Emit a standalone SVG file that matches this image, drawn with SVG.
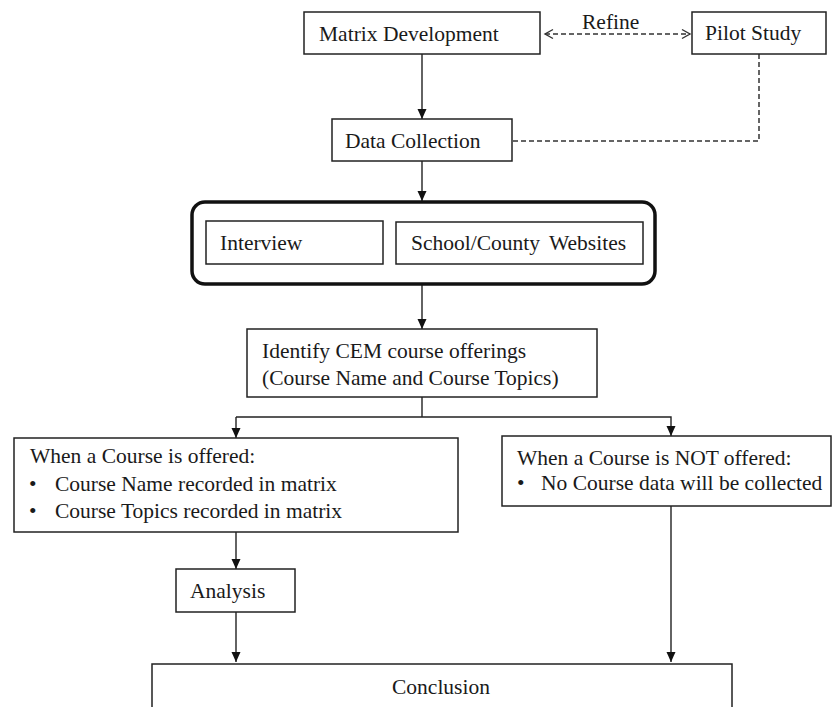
<svg xmlns="http://www.w3.org/2000/svg" width="833" height="707" viewBox="0 0 833 707">
<style>
.box{fill:#fff;stroke:#222;stroke-width:1.5}
.t{font-family:'Liberation Serif',serif;font-size:21.5px;fill:#1a1a1a}
.ln{fill:none;stroke:#222;stroke-width:1.4}
.dash{fill:none;stroke:#333;stroke-width:1.5;stroke-dasharray:5 3}
</style>
<defs>
<marker id="ah" markerUnits="userSpaceOnUse" markerWidth="10" markerHeight="10" refX="10" refY="5" orient="auto">
<path d="M0,0.5 L10,5 L0,9.5 z" fill="#111"/>
</marker>
<marker id="oh" markerUnits="userSpaceOnUse" markerWidth="12" markerHeight="12" refX="9" refY="6" orient="auto-start-reverse">
<path d="M1,1.5 L9,6 L1,10.5" fill="none" stroke="#333" stroke-width="1.4"/>
</marker>
</defs>
<rect width="833" height="707" fill="#fff"/>
<g id="connectors">
<line class="dash" x1="545" y1="34" x2="690" y2="34" marker-start="url(#oh)" marker-end="url(#oh)"/>
<polyline class="dash" points="759,54 759,141 512,141"/>
<line class="ln" x1="422" y1="54" x2="422" y2="119" marker-end="url(#ah)"/>
<line class="ln" x1="422" y1="161" x2="422" y2="201" marker-end="url(#ah)"/>
<line class="ln" x1="422" y1="285" x2="422" y2="329" marker-end="url(#ah)"/>
<polyline class="ln" points="422,397 422,417"/>
<polyline class="ln" points="236,417 671,417 671,436" marker-end="url(#ah)"/>
<line class="ln" x1="236" y1="417" x2="236" y2="438" marker-end="url(#ah)"/>
<line class="ln" x1="236" y1="532" x2="236" y2="569" marker-end="url(#ah)"/>
<line class="ln" x1="236" y1="612" x2="236" y2="662" marker-end="url(#ah)"/>
<line class="ln" x1="671" y1="506" x2="671" y2="662" marker-end="url(#ah)"/>
<text class="t" x="582" y="29" font-family="Liberation Serif">Refine</text>
</g>
<g font-family="Liberation Serif">
<g id="matrix"><rect class="box" x="304" y="12" width="236" height="42"/><text class="t" x="319" y="41">Matrix Development</text></g>
<g id="pilot"><rect class="box" x="692" y="12" width="134" height="42"/><text class="t" x="705" y="40">Pilot Study</text></g>
<g id="data"><rect class="box" x="332" y="119" width="180" height="42"/><text class="t" x="345" y="148">Data Collection</text></g>
<g id="sources">
<rect x="192" y="202" width="463" height="82" rx="13" fill="#fff" stroke="#111" stroke-width="3.5"/>
<g id="interview"><rect class="box" x="206" y="221" width="177" height="43"/><text class="t" x="220" y="250">Interview</text></g>
<g id="websites"><rect class="box" x="396" y="222" width="247" height="42"/><text class="t" x="411" y="250" word-spacing="4">School/County Websites</text></g>
</g>
<g id="identify"><rect class="box" x="247" y="329" width="350" height="68"/><text class="t" x="262" y="358">Identify CEM course offerings</text><text class="t" x="262" y="385">(Course Name and Course Topics)</text></g>
<g id="offered"><rect class="box" x="14" y="438" width="444" height="94"/>
<text class="t" x="30" y="463">When a Course is offered:</text>
<text class="t" x="29" y="491">•</text><text class="t" x="55" y="491">Course Name recorded in matrix</text>
<text class="t" x="29" y="518">•</text><text class="t" x="55" y="518">Course Topics recorded in matrix</text></g>
<g id="notoffered"><rect class="box" x="502" y="436" width="329" height="70"/>
<text class="t" x="517" y="465">When a Course is NOT offered:</text>
<text class="t" x="517" y="490">•</text><text class="t" x="541" y="490">No Course data will be collected</text></g>
<g id="analysis"><rect class="box" x="176" y="569" width="119" height="43"/><text class="t" x="190" y="598">Analysis</text></g>
<g id="conclusion"><rect class="box" x="152" y="664" width="580" height="50"/><text class="t" x="392" y="694">Conclusion</text></g>
</g>
</svg>
